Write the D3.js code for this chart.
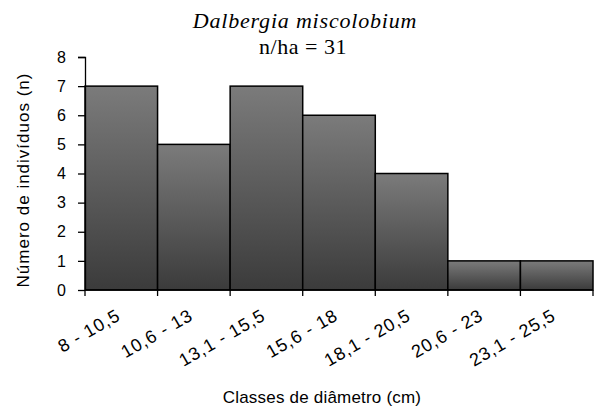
<!DOCTYPE html>
<html>
<head>
<meta charset="utf-8">
<script src="https://cdn.jsdelivr.net/npm/d3@7"></script>
<style>
  body { margin: 0; background: #fff; }
</style>
</head>
<body>
<svg id="chart" width="595" height="412"></svg>
<script>
// data
const classes = ["8 - 10,5", "10,6 - 13", "13,1 - 15,5", "15,6 - 18", "18,1 - 20,5", "20,6 - 23", "23,1 - 25,5"];
const counts = [7, 5, 7, 6, 4, 1, 1];
const yTicks = [0, 1, 2, 3, 4, 5, 6, 7, 8];

const svg = d3.select("#chart");
const margin = { top: 57, right: 2, bottom: 122, left: 85 };
const width = +svg.attr("width") - margin.left - margin.right;
const height = +svg.attr("height") - margin.top - margin.bottom;

// gradient for bars (lighter top, darker bottom)
const grad = svg.append("defs").append("linearGradient")
    .attr("id", "barGrad")
    .attr("x1", 0).attr("y1", 0).attr("x2", 0).attr("y2", 1);
grad.append("stop").attr("offset", "0%").attr("stop-color", "#7b7b7b");
grad.append("stop").attr("offset", "100%").attr("stop-color", "#3b3b3b");

const g = svg.append("g")
    .attr("transform", `translate(${margin.left}, ${margin.top})`);

const x = d3.scaleBand()
    .domain(classes)
    .range([0, width])
    .padding(0);

const y = d3.scaleLinear()
    .domain([0, 8])
    .range([height, 0]);

// bars
g.selectAll("rect.bar")
    .data(counts)
    .enter()
    .append("rect")
    .attr("class", "bar")
    .attr("x", (d, i) => x(classes[i]))
    .attr("y", d => y(d))
    .attr("width", x.bandwidth())
    .attr("height", d => height - y(d))
    .attr("fill", "url(#barGrad)")
    .attr("stroke", "#000")
    .attr("stroke-width", 1.5);

// y axis
const yAxis = g.append("g")
    .call(d3.axisLeft(y).tickValues(yTicks).tickSize(7).tickFormat(d3.format("d")));
yAxis.select(".domain").attr("stroke", "#000").attr("stroke-width", 1.3).attr("d", `M-7,0.5H0.5V${height}`);
yAxis.selectAll(".tick line").attr("stroke", "#000").attr("stroke-width", 1.3);
yAxis.selectAll("text")
    .attr("x", -19)
    .attr("fill", "#000")
    .style("font-family", "Liberation Sans, Arial")
    .style("font-size", "16px");

// x axis: ticks at category boundaries
const bounds = classes.map(c => x(c)).concat([width]);
const xAxis = g.append("g").attr("transform", `translate(0, ${height})`);
xAxis.append("line")
    .attr("x1", 0).attr("x2", width)
    .attr("y1", 0).attr("y2", 0)
    .attr("stroke", "#000").attr("stroke-width", 1.5);
xAxis.selectAll("line.tk")
    .data(bounds)
    .enter()
    .append("line")
    .attr("class", "tk")
    .attr("x1", d => d).attr("x2", d => d)
    .attr("y1", 0).attr("y2", 6)
    .attr("stroke", "#000").attr("stroke-width", 1.3);

// rotated category labels
xAxis.selectAll("text.lbl")
    .data(classes)
    .enter()
    .append("text")
    .attr("class", "lbl")
    .attr("transform", d => `translate(${x(d) + x.bandwidth() / 2 - 6}, 18) rotate(-30)`)
    .attr("text-anchor", "end")
    .attr("dy", "0.7em")
    .style("font-family", "Liberation Sans, Arial")
    .style("font-size", "18px")
    .style("letter-spacing", "0.9px")
    .attr("fill", "#000")
    .text(d => d);

// titles
svg.append("text")
    .attr("x", 305).attr("y", 28)
    .attr("text-anchor", "middle")
    .style("font-family", "Liberation Serif, Times New Roman")
    .style("font-style", "italic")
    .style("font-size", "22px")
    .style("letter-spacing", "0.8px")
    .text("Dalbergia miscolobium");

svg.append("text")
    .attr("x", 303).attr("y", 54)
    .attr("text-anchor", "middle")
    .style("font-family", "Liberation Serif, Times New Roman")
    .style("font-size", "22px")
    .style("letter-spacing", "0.5px")
    .text("n/ha = 31");

// axis titles
svg.append("text")
    .attr("transform", "translate(29, 180) rotate(-90)")
    .attr("text-anchor", "middle")
    .style("font-family", "Liberation Sans, Arial")
    .style("font-size", "17px")
    .style("letter-spacing", "1px")
    .text("Número de indivíduos (n)");

svg.append("text")
    .attr("x", 322).attr("y", 403)
    .attr("text-anchor", "middle")
    .style("font-family", "Liberation Sans, Arial")
    .style("font-size", "17px")
    .style("letter-spacing", "0.2px")
    .text("Classes de diâmetro (cm)");
</script>
</body>
</html>
